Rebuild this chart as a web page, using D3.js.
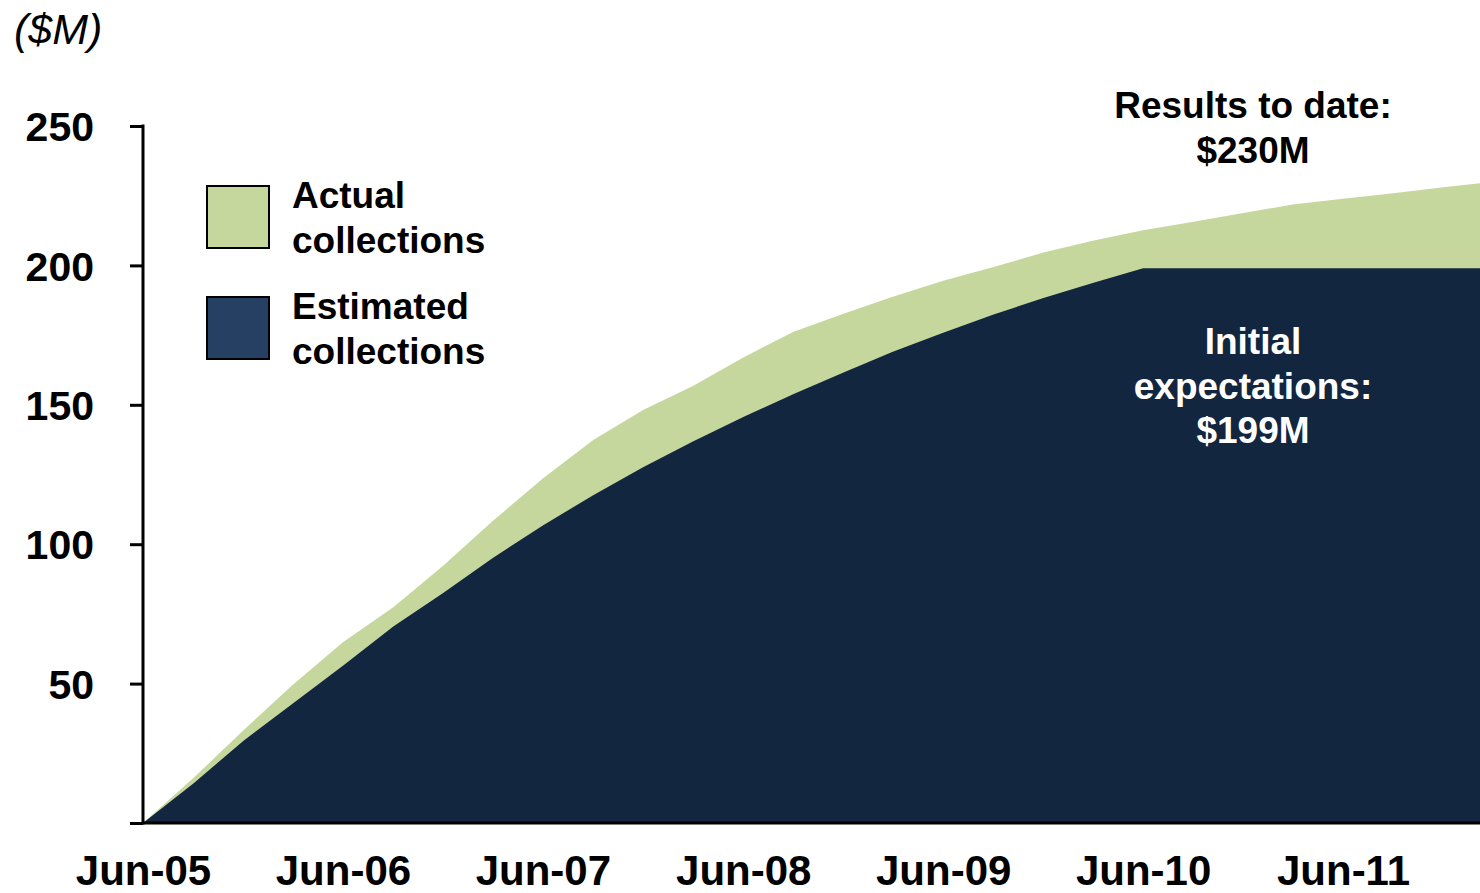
<!DOCTYPE html>
<html>
<head>
<meta charset="utf-8">
<script src="https://cdn.jsdelivr.net/npm/d3@7"></script>
<style>
  html, body { margin: 0; padding: 0; background: #ffffff; }
  svg { display: block; font-family: "Liberation Sans", Arial, sans-serif; }
</style>
</head>
<body>
<svg id="chart" width="1480" height="893"></svg>
<script>
// ---- Data (cumulative $M, quarterly) ----
const periods = ["Jun-05","Sep-05","Dec-05","Mar-06","Jun-06","Sep-06","Dec-06","Mar-07",
  "Jun-07","Sep-07","Dec-07","Mar-08","Jun-08","Sep-08","Dec-08","Mar-09",
  "Jun-09","Sep-09","Dec-09","Mar-10","Jun-10","Sep-10","Dec-10","Mar-11",
  "Jun-11","Sep-11","Dec-11","Mar-12"];
const actualCollections = [0, 16.1, 33.2, 49.5, 64.8, 77.4, 92.3, 108.2,
  123.6, 137.4, 148.1, 156.7, 167.0, 176.2, 182.7, 188.8,
  194.5, 199.4, 204.6, 208.8, 212.6, 215.7, 218.8, 221.8,
  223.9, 225.9, 228.0, 230.0];
const estimatedCollections = [0, 14.2, 29.4, 42.8, 56.4, 70.5, 82.5, 95.0,
  106.7, 117.6, 127.6, 136.8, 145.6, 153.9, 161.6, 169.0,
  175.8, 182.4, 188.3, 193.7, 199, 199, 199, 199,
  199, 199, 199, 199];
const yTicks = [50, 100, 150, 200, 250];
const xTickLabels = ["Jun-05","Jun-06","Jun-07","Jun-08","Jun-09","Jun-10","Jun-11"];
const legendItems = ["Actual collections", "Estimated collections"];

// ---- Setup ----
const parse = d3.timeParse("%b-%y");
const fmt = d3.timeFormat("%b-%y");
const svg = d3.select("#chart");
const W = 1480, H = 893;
const x = d3.scaleTime().domain([parse("Jun-05"), parse("Jun-11")]).range([143, 1343]);
const y = d3.scaleLinear().domain([0, 250]).range([823, 126]);

const rows = periods.map((p, i) => ({ date: parse(p), actual: actualCollections[i], est: estimatedCollections[i] }));

svg.append("defs").append("clipPath").attr("id", "clip")
  .append("rect").attr("x", 143).attr("y", 0).attr("width", W - 143).attr("height", 823);

const gPlot = svg.append("g").attr("clip-path", "url(#clip)");

const areaActual = d3.area().x(d => x(d.date)).y0(y(0)).y1(d => y(d.actual));
const areaEst = d3.area().x(d => x(d.date)).y0(y(0)).y1(d => y(d.est));

gPlot.append("path").datum(rows).attr("d", areaActual).attr("fill", "#c5d79d");
gPlot.append("path").datum(rows).attr("d", areaEst).attr("fill", "#12263f");

// ---- Axes ----
const yAxis = d3.axisLeft(y).tickValues([0].concat(yTicks)).tickSize(13).tickFormat(d => d === 0 ? "" : d);
const gy = svg.append("g").attr("transform", "translate(143,0)").call(yAxis);
gy.select(".domain").remove();
gy.selectAll(".tick line").attr("stroke", "#000").attr("stroke-width", 3);
gy.selectAll(".tick text").attr("x", -49).attr("dy", "0.36em")
  .attr("font-size", 41).attr("font-weight", "bold").attr("fill", "#000")
  .attr("font-family", "'Liberation Sans', Arial, sans-serif");
svg.append("line").attr("x1", 143).attr("x2", 143).attr("y1", y(250) - 1.5).attr("y2", y(0) + 1.5)
  .attr("stroke", "#000").attr("stroke-width", 3);

const xAxis = d3.axisBottom(x).tickValues(xTickLabels.map(parse)).tickSize(0).tickFormat(fmt);
const gx = svg.append("g").attr("transform", "translate(0," + y(0) + ")").call(xAxis);
gx.select(".domain").remove();
gx.selectAll(".tick text").attr("y", 62).attr("dy", 0)
  .attr("font-size", 42).attr("font-weight", "bold").attr("fill", "#000")
  .attr("font-family", "'Liberation Sans', Arial, sans-serif");
svg.append("line").attr("x1", 143).attr("x2", W).attr("y1", y(0)).attr("y2", y(0))
  .attr("stroke", "#000").attr("stroke-width", 3);

// ---- Unit label ----
svg.append("text").attr("x", 14).attr("y", 44).attr("font-size", 43).attr("font-style", "italic")
  .attr("fill", "#000").text("($M)");

// ---- Legend ----
const legendColors = ["#c5d79d", "#254062"];
const lg = svg.append("g");
legendItems.forEach((name, i) => {
  const top = 186 + i * 111;
  lg.append("rect").attr("x", 207).attr("y", top).attr("width", 62).attr("height", 62)
    .attr("fill", legendColors[i]).attr("stroke", "#000").attr("stroke-width", 2);
  const words = name.split(" ");
  words.forEach((w, j) => {
    lg.append("text").attr("x", 292).attr("y", top + 22 + j * 45)
      .attr("font-size", 37).attr("font-weight", "bold").attr("fill", "#000").text(w);
  });
});

// ---- Annotations ----
const ann1 = ["Results to date:", "$230M"];
ann1.forEach((t, i) => {
  svg.append("text").attr("x", 1253).attr("y", 118 + i * 45).attr("text-anchor", "middle")
    .attr("font-size", 37).attr("font-weight", "bold").attr("fill", "#000").text(t);
});
const ann2 = ["Initial", "expectations:", "$199M"];
ann2.forEach((t, i) => {
  svg.append("text").attr("x", 1253).attr("y", 354 + i * 44.5).attr("text-anchor", "middle")
    .attr("font-size", 37).attr("font-weight", "bold").attr("fill", "#fff").text(t);
});
</script>
</body>
</html>
